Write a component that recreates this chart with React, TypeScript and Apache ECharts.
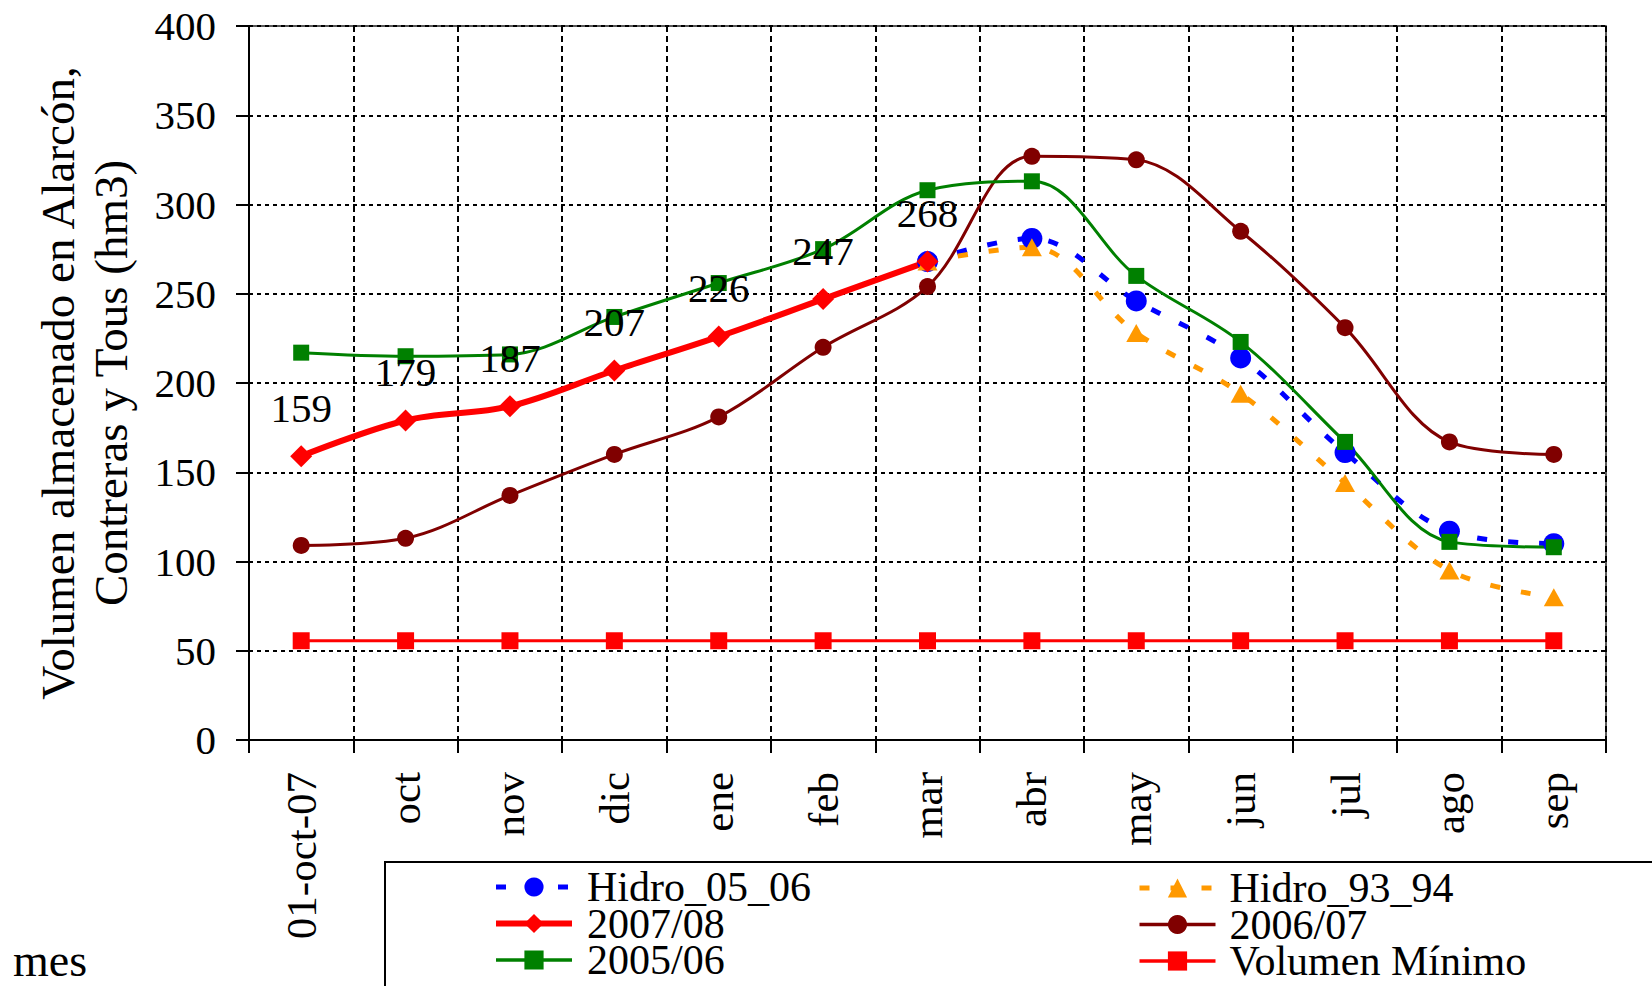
import React, { useEffect, useRef } from "react";
import * as echarts from "echarts";

const categories = ["01-oct-07", "oct", "nov", "dic", "ene", "feb", "mar", "abr", "may", "jun", "jul", "ago", "sep"];
const hidro0506 = [null, null, null, null, null, null, 268, 281, 246, 214, 161, 117, 110];
const hidro9394 = [null, null, null, null, null, null, 268, 276, 228, 194, 144, 95, 80];
const serie0708 = [159, 179, 187, 207, 226, 247, 268, null, null, null, null, null, null];
const serie0607 = [109, 113, 137, 160, 181, 220, 254, 327, 325, 285, 231, 167, 160];
const serie0506 = [217, 215, 216, 237, 256, 275, 308, 313, 260, 223, 167, 111, 108];
const volMinimo = [55.6, 55.6, 55.6, 55.6, 55.6, 55.6, 55.6, 55.6, 55.6, 55.6, 55.6, 55.6, 55.6];
const yTicks = { min: 0, max: 400, interval: 50 };
const yTitle = "Volumen almacenado en Alarcón,\nContreras y Tous (hm3)";
const xTitle = "mes";

const FONT = "Liberation Serif";

export default function App() {
  const ref = useRef<HTMLDivElement>(null);
  useEffect(() => {
    if (!ref.current) return;
    const chart = echarts.init(ref.current, null, { renderer: "svg" });
    const smooth = 0.35;
    const legendCommon = {
      orient: "vertical",
      height: 200,
      padding: 0,
      itemGap: -5.5,
      itemWidth: 76,
      itemHeight: 24,
    };
    const dash = [10, 21];
    const option: any = {
      animation: false,
      backgroundColor: "#fff",
      textStyle: { fontFamily: FONT, color: "#000" },
      grid: {
        left: 249,
        right: 46,
        top: 26,
        bottom: 246,
        containLabel: false,
        outerBoundsMode: "none",
        show: true,
        borderColor: "#222",
        borderWidth: 1.5,
        backgroundColor: "transparent",
      },
      xAxis: {
        type: "category",
        data: categories,
        boundaryGap: true,
        axisLine: { show: true, lineStyle: { color: "#000", width: 2 } },
        axisTick: { show: true, length: 13, lineStyle: { color: "#000", width: 2 } },
        splitLine: { show: true, lineStyle: { color: "#000", width: 2, type: [6, 4] } },
        axisLabel: { rotate: 90, interval: 0, fontSize: 43, margin: 32, color: "#000", fontFamily: FONT },
      },
      yAxis: {
        type: "value",
        min: yTicks.min,
        max: yTicks.max,
        interval: yTicks.interval,
        name: yTitle,
        nameLocation: "middle",
        nameRotate: 90,
        nameGap: 112,
        nameTextStyle: { fontSize: 47, lineHeight: 53, color: "#000", fontFamily: FONT },
        axisLine: { show: true, lineStyle: { color: "#000", width: 2 } },
        axisTick: { show: true, length: 13, lineStyle: { color: "#000", width: 2 } },
        splitLine: { show: true, lineStyle: { color: "#000", width: 2, type: [4, 4] } },
        axisLabel: { fontSize: 41, margin: 33, color: "#000", fontFamily: FONT },
      },
      legend: [
        {
          ...legendCommon,
          data: [
            { name: "Hidro_05_06", lineStyle: { width: 5, type: dash } },
            { name: "2007/08", lineStyle: { width: 6 } },
            { name: "2005/06", lineStyle: { width: 3.5 } },
          ],
          left: 493,
          top: 866,
          textStyle: { fontSize: 42, color: "#000", fontFamily: FONT, padding: [0, 0, 0, 10] },
        },
        {
          ...legendCommon,
          data: [
            { name: "Hidro_93_94", lineStyle: { width: 5, type: dash } },
            { name: "2006/07", lineStyle: { width: 3.5 } },
            { name: "Volumen Mínimo", lineStyle: { width: 3.5 } },
          ],
          left: 1137,
          top: 867,
          textStyle: { fontSize: 42, color: "#000", fontFamily: FONT, padding: [0, 0, 0, 9] },
        },
      ],
      graphic: [
        {
          type: "rect",
          shape: { x: 385, y: 862, width: 1400, height: 200 },
          style: { fill: "none", stroke: "#000", lineWidth: 2 },
          silent: true,
        },
        {
          type: "text",
          x: 13,
          y: 960,
          style: { text: xTitle, font: `46px "${FONT}"`, fill: "#000", verticalAlign: "middle", align: "left" },
        },
      ],
      series: [
        {
          name: "Hidro_05_06",
          type: "line",
          data: hidro0506,
          smooth,
          symbol: "circle",
          symbolSize: 21,
          itemStyle: { color: "#0000FF" },
          lineStyle: { color: "#0000FF", width: 5, type: dash },
        },
        {
          name: "Hidro_93_94",
          type: "line",
          data: hidro9394,
          smooth,
          symbol: "triangle",
          symbolSize: [20, 18],
          itemStyle: { color: "#FF9900" },
          lineStyle: { color: "#FF9900", width: 5, type: dash },
        },
        {
          name: "2007/08",
          type: "line",
          data: serie0708,
          smooth,
          symbol: "diamond",
          symbolSize: 22,
          itemStyle: { color: "#FF0000" },
          lineStyle: { color: "#FF0000", width: 6 },
          label: { show: true, position: "top", distance: 17, fontSize: 41, color: "#000", fontFamily: FONT },
        },
        {
          name: "2006/07",
          type: "line",
          data: serie0607,
          smooth,
          symbol: "circle",
          symbolSize: 17,
          itemStyle: { color: "#800000" },
          lineStyle: { color: "#800000", width: 3 },
        },
        {
          name: "2005/06",
          type: "line",
          data: serie0506,
          smooth,
          symbol: "rect",
          symbolSize: 16,
          itemStyle: { color: "#008000" },
          lineStyle: { color: "#008000", width: 3 },
        },
        {
          name: "Volumen Mínimo",
          type: "line",
          data: volMinimo,
          symbol: "rect",
          symbolSize: 17,
          itemStyle: { color: "#FF0000" },
          lineStyle: { color: "#FF0000", width: 3 },
        },
      ],
    };
    chart.setOption(option);
    return () => chart.dispose();
  }, []);
  return (
    <div
      ref={ref}
      style={{ position: "fixed", left: 0, top: 0, width: 1652, height: 986, background: "#fff" }}
    />
  );
}
